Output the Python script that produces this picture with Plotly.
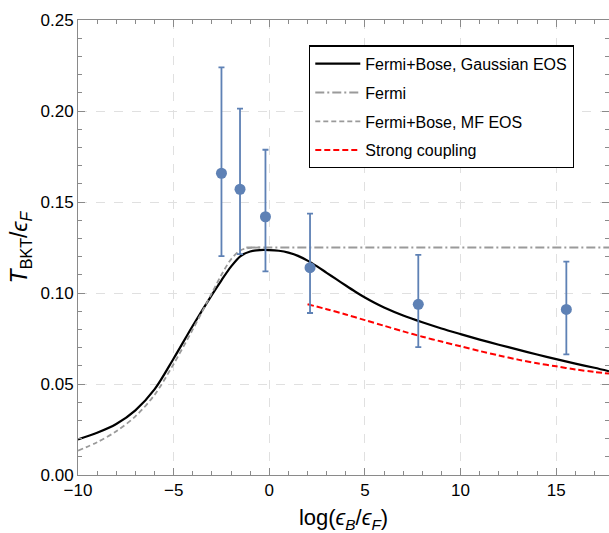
import plotly.graph_objects as go

# ---- data ----
# Fermi+Bose, Gaussian EOS (solid black)
gauss_x = [-10, -9, -8, -7, -6, -5, -4, -3, -2.5, -2, -1.5, -1, -0.5, 0, 0.5,
           1, 1.5, 2, 2.5, 3, 3.5, 4, 4.5, 5, 5.5, 6, 7, 8, 9, 10, 11, 12, 13, 14,
           15, 16, 17, 17.76]
gauss_y = [0.0196, 0.0232, 0.0280, 0.0355, 0.0470, 0.0640, 0.0820, 0.0990, 0.1070,
           0.1145, 0.1203, 0.1228, 0.1236, 0.1236, 0.1232, 0.1222, 0.1204, 0.1178,
           0.1146, 0.1111, 0.1076, 0.1041, 0.1007, 0.0975, 0.0946, 0.0920, 0.0876,
           0.0839, 0.0805, 0.0774, 0.0744, 0.0716, 0.0689, 0.0662, 0.0637, 0.0612,
           0.0589, 0.0570]

# Fermi (gray dot-dashed)
fermi_x = [-1.2, 17.76]
fermi_y = [0.125, 0.125]

# Fermi+Bose, MF EOS (gray dashed)
mf_x = [-10, -9, -8, -7, -6, -5, -4, -3, -2.5, -2, -1.5, -1.0, -0.5]
mf_y = [0.0134, 0.0180, 0.0240, 0.0322, 0.0440, 0.0610, 0.0800, 0.1000, 0.1100,
        0.1185, 0.1235, 0.1248, 0.1250]

# Strong coupling (red dashed)
strong_x = [2.0, 3, 4, 5, 6, 7, 8, 9, 10, 11, 12, 13, 14, 15, 16, 17, 17.76]
strong_y = [0.0938, 0.0911, 0.0882, 0.0851, 0.0820, 0.0789, 0.0760, 0.0733, 0.0707,
            0.0681, 0.0657, 0.0634, 0.0614, 0.0597, 0.0580, 0.0566, 0.0557]

# Experimental points with asymmetric error bars
exp_x = [-2.5, -1.53, -0.2, 2.13, 7.79, 15.53]
exp_y = [0.1658, 0.1570, 0.1419, 0.1139, 0.0938, 0.0910]
exp_hi = [0.2240, 0.2013, 0.1787, 0.1436, 0.1209, 0.1172]
exp_lo = [0.1203, 0.1214, 0.1119, 0.0890, 0.0703, 0.0663]

x_ticks = [-10, -5, 0, 5, 10, 15]
x_ticklabels = ["\u221210", "\u22125", "0", "5", "10", "15"]
y_ticks = [0.00, 0.05, 0.10, 0.15, 0.20, 0.25]
y_ticklabels = ["0.00", "0.05", "0.10", "0.15", "0.20", "0.25"]

FONT = "Liberation Sans, Arial, Helvetica, sans-serif"
BLUE = "#5E81B5"
GRAY = "#9a9a9a"

fig = go.Figure()

fig.add_trace(go.Scatter(x=gauss_x, y=gauss_y, mode="lines",
                         line_shape="spline",
                         name="Fermi+Bose, Gaussian EOS", legendgroup="a",
                         line=dict(color="black", width=2.2, smoothing=0.9)))
fig.add_trace(go.Scatter(x=fermi_x, y=fermi_y, mode="lines",
                         name="Fermi", legendgroup="b",
                         line=dict(color=GRAY, width=1.8, dash="9px,3px,2px,3px")))
fig.add_trace(go.Scatter(x=mf_x, y=mf_y, mode="lines", line_shape="spline",
                         name="Fermi+Bose, MF EOS", legendgroup="c",
                         line=dict(color=GRAY, width=1.8, dash="5px,3px", smoothing=0.9)))
fig.add_trace(go.Scatter(x=strong_x, y=strong_y, mode="lines", line_shape="spline",
                         name="Strong coupling", legendgroup="d",
                         line=dict(color="#ff0000", width=2.0, dash="6px,3px",
                                   smoothing=0.9)))

err_plus = [h - y for h, y in zip(exp_hi, exp_y)]
err_minus = [y - l for l, y in zip(exp_lo, exp_y)]
fig.add_trace(go.Scatter(x=exp_x, y=exp_y, mode="markers", showlegend=False,
                         marker=dict(color=BLUE, size=11),
                         error_y=dict(type="data", symmetric=False, array=err_plus,
                                      arrayminus=err_minus, color=BLUE,
                                      thickness=1.8, width=3)))

axis_common = dict(
    showline=True, linecolor="#8a8a8a", linewidth=1, mirror="ticks",
    ticks="inside", ticklen=7, tickcolor="#8a8a8a", tickwidth=1,
    showgrid=True, gridcolor="#e0e0e0", griddash="dash", gridwidth=1,
    zeroline=False,
    tickfont=dict(family=FONT, size=17, color="black"),
)

fig.update_xaxes(
    range=[-10, 17.76], tickmode="array", tickvals=x_ticks, ticktext=x_ticklabels,
    minor=dict(dtick=1, tick0=0, ticks="inside", ticklen=4, tickcolor="#8a8a8a",
               showgrid=False),
    title=dict(text="log(<i>\u03f5</i><sub><i>B</i></sub>/<i>\u03f5</i><sub><i>F</i></sub>)",
               font=dict(family=FONT, size=22, color="black"), standoff=10),
    **axis_common,
)
fig.update_yaxes(
    range=[0, 0.25], tickmode="array", tickvals=y_ticks, ticktext=y_ticklabels,
    minor=dict(dtick=0.01, tick0=0, ticks="inside", ticklen=4, tickcolor="#8a8a8a",
               showgrid=False),
    title=dict(text="<i>T</i><sub>BKT</sub>/<i>\u03f5</i><sub><i>F</i></sub>",
               font=dict(family=FONT, size=23, color="black"), standoff=6),
    **axis_common,
)

fig.update_layout(
    width=609, height=533,
    margin=dict(l=78, r=0, t=20, b=58),
    paper_bgcolor="white", plot_bgcolor="white",
    font=dict(family=FONT, color="black"),
    legend=dict(x=0.435, y=0.944, xanchor="left", yanchor="top",
                bgcolor="white", bordercolor="black", borderwidth=1.3,
                font=dict(family=FONT, size=16, color="black"),
                tracegroupgap=5, itemwidth=45),
)

fig.write_html("out.html",
               config={"displayModeBar": False},
               post_script="document.body.style.margin='0px';"
                           "document.body.style.overflow='hidden';")
